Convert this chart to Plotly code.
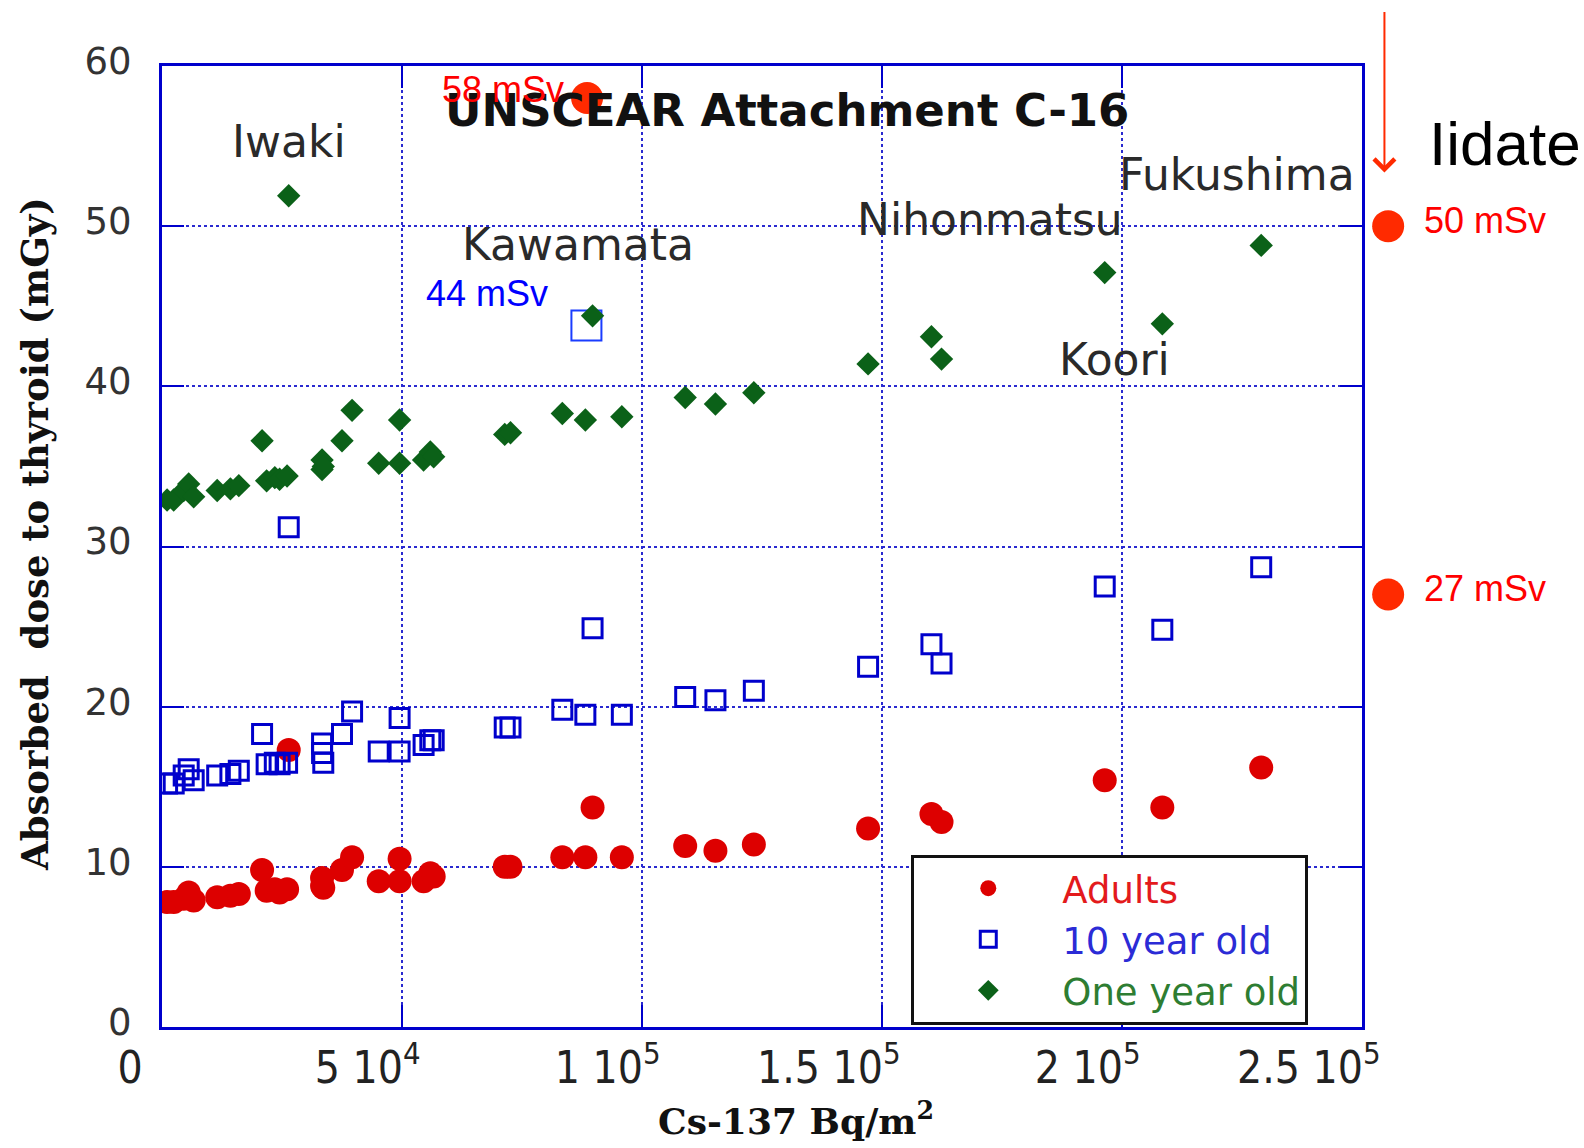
import plotly.graph_objects as go

# ---------------- data ----------------
cs137 = [1060, 2440, 4520, 5560, 6600, 11500, 14250, 16000, 20850, 21800,
         23500, 24500, 26060, 26400, 33350, 33350, 33600, 37500, 39600, 45150,
         49500, 49500, 54500, 55900, 56600, 71400, 72600, 83400, 88200, 89700,
         95800, 109000, 115300, 123300, 147100, 160300, 162400, 196400, 208400, 229000]
adults = [7.8, 7.8, 8.0, 8.4, 7.9, 8.1, 8.2, 8.3, 9.8, 8.5,
          8.6, 8.4, 8.6, 17.3, 9.3, 8.8, 8.7, 9.8, 10.6, 9.1,
          9.1, 10.5, 9.1, 9.6, 9.4, 10.0, 10.0, 10.6, 10.6, 13.7,
          10.6, 11.3, 11.0, 11.4, 12.4, 13.3, 12.8, 15.4, 13.7, 16.2]
ten_year = [15.2, 15.2, 15.7, 16.1, 15.4, 15.7, 15.8, 16.0, 18.3, 16.4,
            16.5, 16.4, 16.5, 31.2, 17.7, 17.1, 16.5, 18.3, 19.7, 17.2,
            17.2, 19.3, 17.6, 17.9, 17.9, 18.7, 18.7, 19.8, 19.5, 24.9,
            19.5, 20.6, 20.4, 21.0, 22.5, 23.9, 22.7, 27.5, 24.8, 28.7]
one_year = [32.9, 32.9, 33.5, 33.9, 33.1, 33.5, 33.6, 33.8, 36.6, 34.1,
            34.3, 34.2, 34.4, 51.9, 35.4, 34.8, 35.0, 36.6, 38.5, 35.2,
            35.2, 37.9, 35.4, 35.9, 35.6, 37.0, 37.1, 38.3, 37.9, 44.4,
            38.1, 39.3, 38.9, 39.6, 41.4, 43.1, 41.7, 47.1, 43.9, 48.8]

series_names = ["Adults", "10 year old", "One year old"]

x_tick_vals = [0, 50000, 100000, 150000, 200000, 250000]
x_tick_text = ["0\u00a0\u00a0\u00a0", "5 10<sup>4</sup>", "1 10<sup>5</sup>", "1.5 10<sup>5</sup>",
               "2 10<sup>5</sup>", "2.5 10<sup>5</sup>"]
y_tick_vals = [0, 10, 20, 30, 40, 50, 60]

x_title = "Cs-137 Bq/m<sup>2</sup>"
y_title = "Absorbed\u00a0 dose to thyroid (mGy)"

place_names = ["Iwaki", "Kawamata", "Nihonmatsu", "Fukushima", "Koori"]
place_x = [26560, 86750, 172600, 223900, 198500]
place_y = [55.3, 48.85, 50.4, 53.2, 41.7]

chart_title = "UNSCEAR Attachment C-16"
title_x = [130300]
title_y = [57.25]

# callouts
dot58_x = [88560]
dot58_y = [58.0]
dot58_label = "58 mSv"
dot58_label_x = 84250
dot58_label_y = 58.55

box44_x = [88420]
box44_y = [43.8]
box44_label = "44 mSv"
box44_label_x = 80900
box44_label_y = 45.8

iidate_label = "Iidate"
iidate_label_y = 55.15
iidate_arrow_tip_y = 53.35
iidate_doses = [50, 27]
iidate_dose_labels = ["50 mSv", "27 mSv"]

# ---------------- styling ----------------
BLUE_AX = "#0000cc"
RED = "#dd0000"
BLUE = "#0000cc"
GREEN = "#0b6118"
CALLOUT_RED = "#ff2a00"

fig = go.Figure()

fig.add_trace(go.Scatter(
    x=cs137, y=adults, mode="markers",
    name='<span style="color:#e31a1c">' + series_names[0] + '</span>',
    marker=dict(symbol="circle", size=24, color=RED, line=dict(width=0)),
))
fig.add_trace(go.Scatter(
    x=cs137, y=ten_year, mode="markers",
    name='<span style="color:#2b2bd6">' + series_names[1] + '</span>',
    marker=dict(symbol="square-open", size=19, color=BLUE, line=dict(width=3, color=BLUE)),
))
fig.add_trace(go.Scatter(
    x=box44_x, y=box44_y, mode="markers", showlegend=False, hoverinfo="skip",
    marker=dict(symbol="square-open", size=30, color="#1a3cff", line=dict(width=2, color="#1a3cff")),
))
fig.add_trace(go.Scatter(
    x=cs137, y=one_year, mode="markers",
    name='<span style="color:#2e7d32">' + series_names[2] + '</span>',
    marker=dict(symbol="diamond", size=18, color=GREEN, line=dict(width=0)),
))
fig.add_trace(go.Scatter(
    x=dot58_x, y=dot58_y, mode="markers", showlegend=False, hoverinfo="skip",
    marker=dict(symbol="circle", size=32, color=CALLOUT_RED, line=dict(width=0)),
))

annotations = []
for name, px, py in zip(place_names, place_x, place_y):
    annotations.append(dict(x=px, y=py, xref="x", yref="y", text=name, showarrow=False,
                            xanchor="center", yanchor="middle",
                            font=dict(family="DejaVu Sans", size=44, color="#2a2a2a")))
annotations.append(dict(x=title_x[0], y=title_y[0], xref="x", yref="y", text=chart_title,
                        showarrow=False, xanchor="center", yanchor="middle",
                        font=dict(family="DejaVu Sans", size=45, color="#111111", weight="bold")))
annotations.append(dict(x=dot58_label_x, y=dot58_label_y, xref="x", yref="y", text=dot58_label,
                        showarrow=False, xanchor="right", yanchor="middle",
                        font=dict(family="Liberation Sans", size=36, color="#ff0000")))
annotations.append(dict(x=box44_label_x, y=box44_label_y, xref="x", yref="y", text=box44_label,
                        showarrow=False, xanchor="right", yanchor="middle",
                        font=dict(family="Liberation Sans", size=36, color="#0000ff")))

# axis titles (placed as in the reference, slightly off-centre)
annotations.append(dict(x=0.5287, y=-0.0953, xref="paper", yref="paper", text=x_title,
                        showarrow=False, xanchor="center", yanchor="middle",
                        font=dict(family="DejaVu Serif", size=36, color="#111111", weight="bold")))
annotations.append(dict(x=-0.1063, y=0.5134, xref="paper", yref="paper", text=y_title,
                        showarrow=False, xanchor="center", yanchor="middle", textangle=-90,
                        font=dict(family="DejaVu Serif", size=37, color="#111111", weight="bold")))

# right-hand side (outside the plotting area)
dot_paper_x = 1.0218
label_paper_x = 1.0501
annotations.append(dict(x=1.0542, y=iidate_label_y, xref="paper", yref="y", text=iidate_label,
                        showarrow=False, xanchor="left", yanchor="middle",
                        font=dict(family="Liberation Sans", size=62, color="#000000")))
annotations.append(dict(x=1.0187, y=iidate_arrow_tip_y, xref="paper", yref="y", text="",
                        showarrow=True, ax=0, ay=-162, arrowhead=4, arrowsize=2,
                        arrowwidth=2, arrowcolor=CALLOUT_RED))
shapes = []
for dose, lab in zip(iidate_doses, iidate_dose_labels):
    shapes.append(dict(type="circle", xref="paper", yref="y", xsizemode="pixel", ysizemode="pixel",
                       xanchor=dot_paper_x, yanchor=dose, x0=-16, x1=16, y0=-16, y1=16,
                       fillcolor=CALLOUT_RED, line=dict(width=0)))
    annotations.append(dict(x=label_paper_x, y=dose + 0.35, xref="paper", yref="y", text=lab,
                            showarrow=False, xanchor="left", yanchor="middle",
                            font=dict(family="Liberation Sans", size=36, color="#ff0000")))

axis_common = dict(
    showline=True, linecolor=BLUE_AX, linewidth=3, mirror="ticks",
    ticks="inside", ticklen=22, tickwidth=2, tickcolor=BLUE_AX,
    showgrid=True, gridcolor="#2a2ad0", griddash="dot", gridwidth=2,
    zeroline=False, automargin=False,
)

fig.update_xaxes(
    range=[0, 250000], tickmode="array", tickvals=x_tick_vals, ticktext=x_tick_text,
    tickfont=dict(family="Liberation Sans Narrow, DejaVu Sans Condensed, sans-serif", size=44, color="#222222"),
    ticklabelposition="outside left", ticklabelshift=21,
    **axis_common,
)
fig.update_yaxes(
    range=[0, 60], tickmode="array", tickvals=y_tick_vals,
    tickfont=dict(family="DejaVu Sans", size=37, color="#333333"),
    ticklabelstandoff=20, ticklabelshift=-5,
    **axis_common,
)

fig.update_layout(
    width=1584, height=1148,
    margin=dict(l=162, r=222, t=66, b=121, pad=0),
    paper_bgcolor="white", plot_bgcolor="white",
    showlegend=True,
    legend=dict(x=0.6244, y=0.1794, xanchor="left", yanchor="top",
                bordercolor="#111111", borderwidth=3, bgcolor="white",
                font=dict(family="DejaVu Sans", size=37),
                itemwidth=138, tracegroupgap=0),
    annotations=annotations,
    shapes=shapes,
)

fig.write_html("out.html")
